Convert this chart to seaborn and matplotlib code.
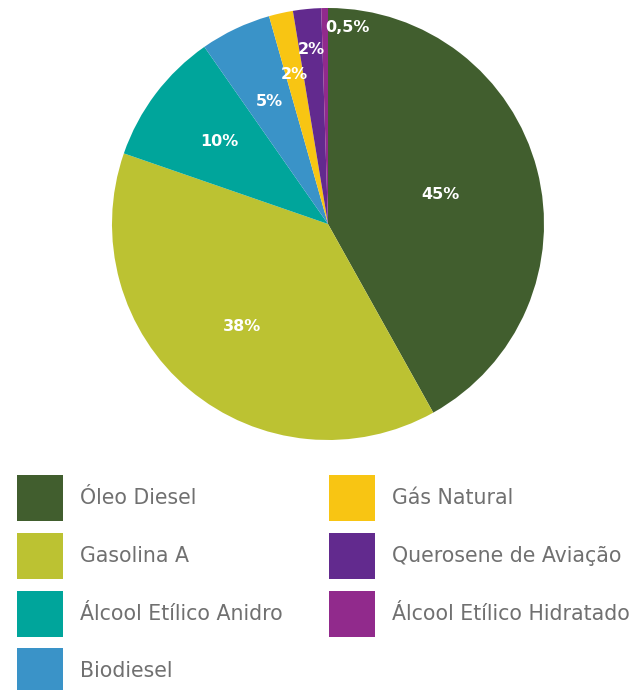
import matplotlib
matplotlib.use("Agg")
import matplotlib.pyplot as plt
import seaborn as sns
from matplotlib.patches import Rectangle
import numpy as np

categories = ["Óleo Diesel", "Gasolina A", "Álcool Etílico Anidro", "Biodiesel",
              "Gás Natural", "Querosene de Aviação", "Álcool Etílico Hidratado"]
values = [41.9, 38.4, 10.0, 5.3, 1.8, 2.1, 0.5]
pct_labels = ["45%", "38%", "10%", "5%", "2%", "2%", "0,5%"]
colors = ["#415e2e", "#bcc232", "#00a59b", "#3a93c8", "#f8c513", "#622a8e", "#912a8c"]

label_radius = [0.54, 0.62, 0.63, 0.63, 0.71, 0.81, 0.91]
label_ha = ["center", "center", "center", "center", "center", "center", "left"]

sns.set_theme(style="white")
plt.rcParams["font.family"] = ["DejaVu Sans"]

W, H = 637, 690
fig = plt.figure(figsize=(W / 100, H / 100), dpi=100)
fig.patch.set_facecolor("white")

cx, cy, R = 328, 224, 216
ax = fig.add_axes([(cx - R) / W, (H - cy - R) / H, 2 * R / W, 2 * R / H])
wedges, _ = ax.pie(values, colors=colors, startangle=90, counterclock=False,
                   radius=1.0, wedgeprops=dict(linewidth=0))
ax.set_xlim(-1, 1)
ax.set_ylim(-1, 1)
ax.set_aspect("equal")
ax.axis("off")

for w, lab, r, ha in zip(wedges, pct_labels, label_radius, label_ha):
    ang = np.deg2rad((w.theta1 + w.theta2) / 2)
    ax.text(r * np.cos(ang), r * np.sin(ang), lab, ha=ha, va="center",
            color="white", fontsize=11.5, fontweight="bold")

# legend
col_x = [17, 329]
row_y = [475, 533, 591, 648]
sw = 46
for i, (cat, col) in enumerate(zip(categories, colors)):
    c = 0 if i < 4 else 1
    r = i if i < 4 else i - 4
    x0, y0 = col_x[c], row_y[r]
    fig.add_artist(Rectangle((x0 / W, 1 - (y0 + sw) / H), sw / W, sw / H,
                             transform=fig.transFigure, facecolor=col,
                             edgecolor="none"))
    fig.text((x0 + sw + 17) / W, 1 - (y0 + sw / 2) / H, cat, ha="left",
             va="center", fontsize=14.8, color="#707070")

fig.savefig("out.png", dpi=100, facecolor="white")
